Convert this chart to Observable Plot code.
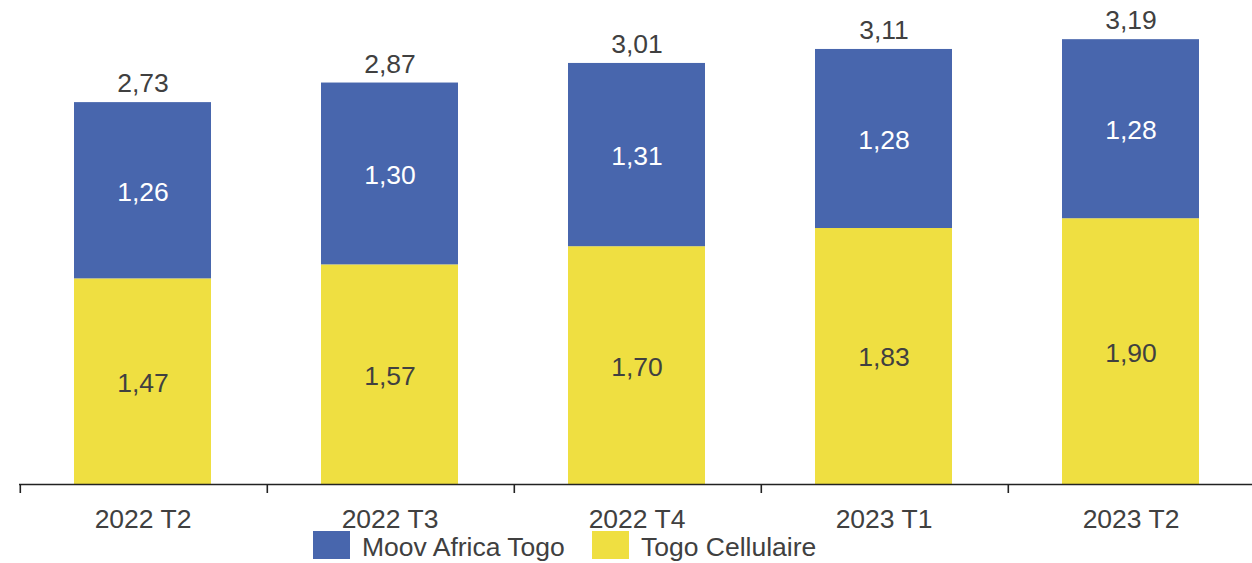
<!DOCTYPE html>
<html><head><meta charset="utf-8">
<script src="https://cdn.jsdelivr.net/npm/d3@7"></script>
<script src="https://cdn.jsdelivr.net/npm/@observablehq/plot@0.6"></script>
<style>
html,body{margin:0;padding:0;background:#fff;}
body{font-family:"Liberation Sans",Arial,sans-serif;color:#404040;width:1252px;height:563px;overflow:hidden;position:relative;}
#chart svg{display:block;}
#legend{position:absolute;left:0;top:531px;width:1252px;height:30px;font-size:26.5px;}
.item{position:absolute;top:0;display:flex;align-items:center;height:28px;}
.item span{position:relative;top:2px;}
.sw{width:37px;height:28px;margin-right:12px;}
</style></head>
<body>
<div id="chart"></div>
<div id="legend"></div>
<script>
const categories = ["2022 T2","2022 T3","2022 T4","2023 T1","2023 T2"];
const seriesNames = ["Moov Africa Togo","Togo Cellulaire"];
const moov = [1.26,1.30,1.31,1.28,1.28];
const togocel = [1.47,1.57,1.70,1.83,1.90];
const totals = [2.73,2.87,3.01,3.11,3.19];
const colors = ["#4866AD","#EFDF41"];

const rows = [];
categories.forEach((c,i)=>{
  rows.push({cat:c, series:seriesNames[1], value:togocel[i]});
  rows.push({cat:c, series:seriesNames[0], value:moov[i]});
});
const totalRows = categories.map((c,i)=>({cat:c, total:totals[i], top:togocel[i]+moov[i]}));
const fmt = v => v.toFixed(2).replace(".", ",");

const W = 1252, H = 563, ML = 19, MB = 79;
const xRange = [19, 1254];
const bw = (xRange[1] - xRange[0]) / categories.length;
const stackOpts = {order: [seriesNames[1], seriesNames[0]]};
const tickLen = 9 / 139.9;
const FS = 26.5;

const plot = Plot.plot({
  width: W, height: H,
  marginLeft: ML, marginRight: 0, marginTop: 0, marginBottom: MB,
  style: {fontFamily: '"Liberation Sans", Arial, sans-serif', fontSize: FS + "px", color: "#404040", background: "#fff"},
  x: {domain: categories, range: xRange, padding: 0, axis: null},
  y: {type: "linear", domain: [0, 3.46], axis: null},
  color: {domain: seriesNames, range: colors},
  marks: [
    Plot.barY(rows, Plot.stackY({...stackOpts, x: "cat", y: "value", fill: "series", insetLeft: 55, insetRight: 55})),
    Plot.text(rows, Plot.stackY({...stackOpts, x: "cat", y: "value", text: d => fmt(d.value), dy: 1.5,
      fill: d => d.series === seriesNames[0] ? "#ffffff" : "#404040", fontSize: FS})),
    Plot.text(totalRows, {x: "cat", y: "top", text: d => fmt(d.total), dy: -19, fill: "#404040", fontSize: FS}),
    Plot.ruleY([0], {stroke: "#222", strokeWidth: 1.6}),
    Plot.ruleX(categories, {x: d => d, dx: -bw/2 + 0.8, y1: 0, y2: -tickLen, stroke: "#222", strokeWidth: 1.6}),
    Plot.text(categories, {x: d => d, frameAnchor: "bottom", lineAnchor: "middle", dy: 35.5, fill: "#404040", fontSize: FS})
  ]
});
document.getElementById("chart").appendChild(plot);

const legend = document.getElementById("legend");
const lefts = [313, 592];
seriesNames.forEach((s,i)=>{
  const it = document.createElement("div");
  it.className = "item";
  it.style.left = lefts[i] + "px";
  it.innerHTML = `<div class="sw" style="background:${colors[i]}"></div><span>${s}</span>`;
  legend.appendChild(it);
});
</script>
</body></html>
